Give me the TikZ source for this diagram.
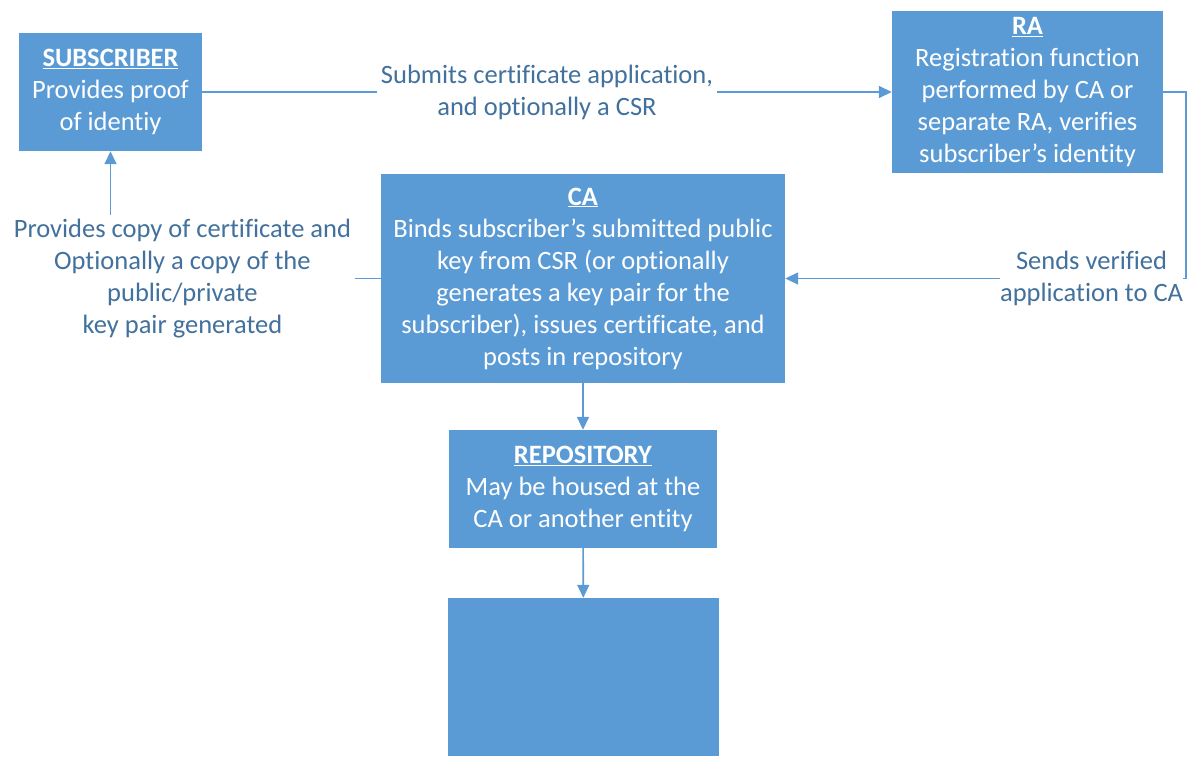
\documentclass[tikz,border=0pt]{standalone}
\usepackage{fontspec}
\setmainfont[Ligatures=NoCommon]{Carlito}
\usetikzlibrary{arrows.meta}
\usetikzlibrary{positioning}
\definecolor{boxblue}{HTML}{5B9BD5}
\definecolor{lineblue}{HTML}{5B9BD5}
\definecolor{labelblue}{HTML}{41719C}

\begin{document}
\begin{tikzpicture}[x=1pt,y=-1pt,
        box/.style={fill=boxblue,text=white,align=center,inner sep=0pt,font=\fontsize{26.5}{32}\selectfont},
        lbl/.style={fill=white,text=labelblue,align=center,inner sep=4pt,font=\fontsize{26.5}{32}\selectfont},
        conn/.style={draw=lineblue,line width=1.6pt,-{Triangle[length=13pt,width=12pt]}}]
        %Frame
            \useasboundingbox (0,0) rectangle (1191,756);
        %Boxes
            \node[box,minimum width=183,minimum height=118] (subscriber) at (110.5,92) {\underline{\textbf{SUBSCRIBER}}\\Provides proof\\of identiy};
            \node[box,minimum width=271,minimum height=162] (ra) at (1027.5,92) {\underline{\textbf{RA}}\\Registration function\\performed by CA or\\separate RA, verifies\\subscriber’s identity};
            \node[box,minimum width=404,minimum height=209] (ca) at (583,278.5) {\underline{\textbf{CA}}\\Binds subscriber’s submitted public\\key from CSR (or optionally\\generates a key pair for the\\subscriber), issues certificate, and\\posts in repository};
            \node[box,minimum width=268,minimum height=118] (repository) at (583,489) {\underline{\textbf{REPOSITORY}}\\May be housed at the\\CA or another entity};
            \node[box,minimum width=271,minimum height=158] (blank) at (583.5,677) {};
        %Application
            \draw[conn] (subscriber) -- node[lbl] {Submits certificate application,\\and optionally a CSR} (ra);
        %Verified application
            \draw[conn] (ra.east) -- ++(23,0) |- (ca.east) node[lbl,inner xsep=0pt,pos=0.618] {Sends verified\\application to CA};
        %Certificate back to subscriber
            \draw[conn] (ca.west) -| (subscriber.south) node[lbl,pos=0.367] {Provides copy of certificate and\\Optionally a copy of the\\public/private\\key pair generated};
        %Posting
            \draw[conn] (ca) -- (repository);
            \draw[conn] (repository) -- (blank);
\end{tikzpicture}
\end{document}
